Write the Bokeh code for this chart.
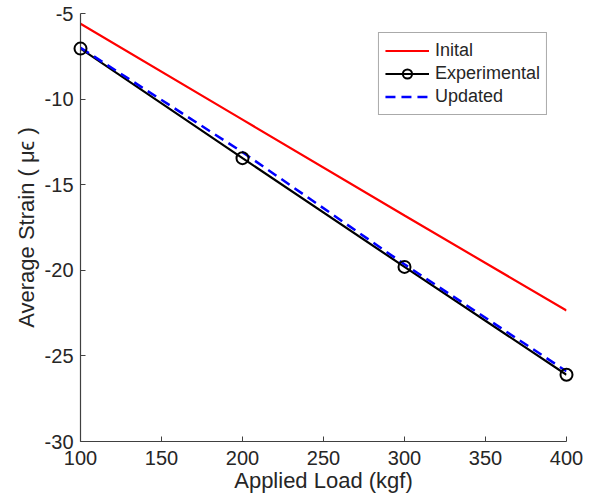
from bokeh.plotting import figure
from bokeh.models import Legend, LegendItem, FixedTicker, Range1d, CustomJSTickFormatter
from bokeh.embed import file_html
from bokeh.resources import INLINE

load = [100, 200, 300, 400]
initial = [-5.6, -11.2, -16.8, -22.35]
experimental = [-7.05, -13.45, -19.8, -26.1]
updated = [-7.0, -13.1, -19.65, -25.9]

x_ticks = [100, 150, 200, 250, 300, 350, 400]
y_ticks = [-30, -25, -20, -15, -10, -5]

p = figure(frame_width=486, frame_height=428, output_backend="svg", toolbar_location=None,
           x_range=Range1d(100, 400), y_range=Range1d(-30, -5),
           min_border_left=80, min_border_right=24, min_border_top=13, min_border_bottom=59)
p.outline_line_color = None
p.grid.visible = False

r_init = p.line(load, initial, line_color="#ff0000", line_width=2.2)
r_exp = p.line(load, experimental, line_color="#000000", line_width=2.2)
r_exp_m = p.scatter(load, experimental, marker="circle", size=12, fill_color=None,
                    line_color="#000000", line_width=2, level="overlay")
r_upd = p.line(load, updated, line_color="#0000ff", line_width=2.5, line_dash="10 6")

fmt = "return tick.toString();"
for ax in (p.xaxis[0], p.yaxis[0]):
    ax.formatter = CustomJSTickFormatter(code=fmt)
    ax.major_label_text_font = "Liberation Sans"
    ax.major_label_text_font_size = "20px"
    ax.major_label_text_color = "#262626"
    ax.axis_label_text_font = "Liberation Sans"
    ax.axis_label_text_font_size = "22px"
    ax.axis_label_text_font_style = "normal"
    ax.axis_label_text_color = "#262626"
    ax.axis_line_color = "#404040"
    ax.axis_line_width = 1.2
    ax.major_tick_line_color = "#404040"
    ax.major_tick_in = 5
    ax.major_tick_out = 0
    ax.minor_tick_line_color = None

p.xaxis[0].ticker = FixedTicker(ticks=x_ticks)
p.yaxis[0].ticker = FixedTicker(ticks=y_ticks)
p.xaxis[0].axis_label = "Applied Load (kgf)"
p.yaxis[0].axis_label = "Average Strain ( μϵ )"
p.xaxis[0].major_label_standoff = 9
p.xaxis[0].axis_label_standoff = 0
p.yaxis[0].major_label_standoff = 7
p.yaxis[0].axis_label_standoff = 3

legend = Legend(items=[
    LegendItem(label="Inital", renderers=[r_init]),
    LegendItem(label="Experimental", renderers=[r_exp, r_exp_m]),
    LegendItem(label="Updated", renderers=[r_upd]),
], location="top_right")
legend.margin = 19
legend.padding = 6
legend.spacing = 0
legend.glyph_width = 44
legend.glyph_height = 23
legend.label_height = 23
legend.label_text_font = "Liberation Sans"
legend.label_text_font_size = "18px"
legend.label_text_color = "#262626"
legend.label_standoff = 6
legend.border_line_color = "#555555"
legend.border_line_width = 1.2
legend.background_fill_color = "white"
p.add_layout(legend)

open("out.html", "w").write(file_html(p, INLINE))
